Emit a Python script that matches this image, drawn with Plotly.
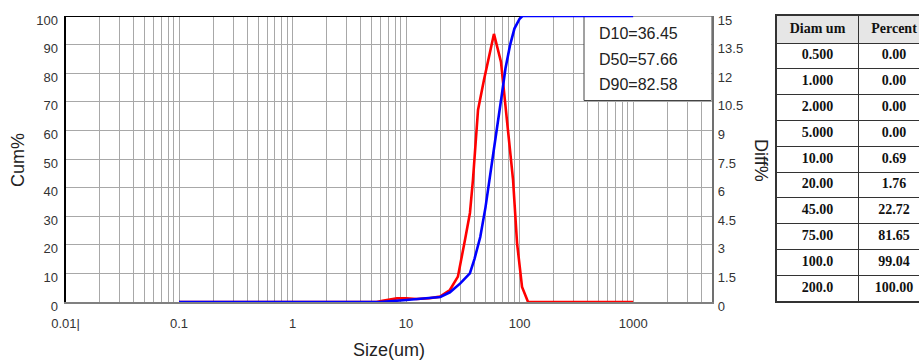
import plotly.graph_objects as go

# ---------------- data ----------------
cum_size = [0.1, 1.0, 5.8, 10.0, 12.4, 16.0, 20.0, 24.3, 30.0, 36.45, 40.0, 45.0,
            50.0, 57.66, 63.0, 70.0, 75.0, 82.58, 90.0, 96.3, 100.0, 106.0, 200.0, 1000.0]
cum_pct = [0.0, 0.0, 0.0, 0.69, 1.1, 1.4, 1.76, 3.4, 6.5, 10.0, 15.0, 22.72,
           33.0, 50.0, 60.0, 73.0, 81.65, 90.0, 95.6, 97.9, 99.04, 100.0, 100.0, 100.0]

diff_size = [0.1, 5.5, 6.2, 8.3, 10.0, 12.4, 16.0, 19.9, 24.3, 28.6, 33.0, 36.5, 38.8,
             43.0, 48.5, 53.7, 59.4, 68.5, 74.3, 82.3, 87.5, 94.9, 105.0, 118.6, 1000.0]
diff_pct = [0.0, 0.0, 0.07, 0.19, 0.2, 0.16, 0.2, 0.28, 0.63, 1.33, 3.25, 4.67, 6.4,
            10.07, 11.64, 12.9, 14.06, 12.59, 10.59, 7.97, 6.4, 3.09, 0.79, 0.0, 0.0]

d_labels = ["D10", "D50", "D90"]
d_values = [36.45, 57.66, 82.58]

table_header = ["Diam um", "Percent"]
diam_labels = ["0.500", "1.000", "2.000", "5.000", "10.00", "20.00", "45.00", "75.00", "100.0", "200.0"]
percent_values = [0.00, 0.00, 0.00, 0.00, 0.69, 1.76, 22.72, 81.65, 99.04, 100.00]

x_tick_vals = [0.01, 0.1, 1, 10, 100, 1000]
x_tick_text = ["0.01|", "0.1", "1", "10", "100", "1000"]
cum_ticks = list(range(0, 101, 10))
diff_ticks = [0, 1.5, 3, 4.5, 6, 7.5, 9, 10.5, 12, 13.5, 15]

# ---------------- geometry (pixels) ----------------
W, H = 919, 360
PL, PR, PT, PB = 65.5, 711.5, 16, 302
XMIN_LOG, XMAX_LOG = -2, 3.69
TL, TT, TB = 777, 16, 301          # table left / top / bottom
COL_W = [81, 72]                   # column widths (second is cut off by the page)
HEAD_H, ROW_H = 27, 25.8

fig = go.Figure()

fig.add_trace(go.Scatter(x=diff_size, y=diff_pct, mode="lines", xaxis="x", yaxis="y",
                         line=dict(color="#ff0000", width=2.6), showlegend=False,
                         hoverinfo="skip"))
fig.add_trace(go.Scatter(x=cum_size, y=cum_pct, mode="lines", xaxis="x", yaxis="y2",
                         line=dict(color="#0000ff", width=2.6), showlegend=False,
                         hoverinfo="skip"))

# grid tick positions (all 1..9 multiples of each decade)
grid_vals, grid_text = [], []
for e in range(-2, 4):
    for m in range(1, 10):
        v = m * 10 ** e
        grid_vals.append(v)
        grid_text.append(x_tick_text[x_tick_vals.index(v)] if v in x_tick_vals else "")

tick_font = dict(family="Liberation Sans, Arial, sans-serif", size=13, color="#333333")

# ---------------- table geometry ----------------
col_edges = [0, COL_W[0], COL_W[0] + COL_W[1]]
col_centers = [(col_edges[i] + col_edges[i + 1]) / 2 for i in range(2)]
row_edges = [0, HEAD_H] + [HEAD_H + ROW_H * (k + 1) for k in range(len(diam_labels))]
row_centers = [(row_edges[i] + row_edges[i + 1]) / 2 for i in range(len(row_edges) - 1)]
tbl_w = W - TL
tbl_h = TB - TT

serif = "Liberation Serif, Times New Roman, serif"
cell_font = dict(family=serif, size=14, color="#111111")

# header text
fig.add_trace(go.Scatter(x=col_centers, y=[row_centers[0]] * 2, mode="text",
                         text=[f"<b>{h}</b>" for h in table_header],
                         textfont=cell_font, xaxis="x3", yaxis="y3",
                         showlegend=False, hoverinfo="skip"))
# column 1
fig.add_trace(go.Scatter(x=[col_centers[0]] * len(diam_labels), y=row_centers[1:], mode="text",
                         text=[f"<b>{d}</b>" for d in diam_labels],
                         textfont=cell_font, xaxis="x3", yaxis="y3",
                         showlegend=False, hoverinfo="skip"))
# column 2
fig.add_trace(go.Scatter(x=[col_centers[1]] * len(percent_values), y=row_centers[1:], mode="text",
                         text=[f"<b>{p:.2f}</b>" for p in percent_values],
                         textfont=cell_font, xaxis="x3", yaxis="y3",
                         showlegend=False, hoverinfo="skip"))

fig.update_layout(
    width=W, height=H,
    margin=dict(l=0, r=0, t=0, b=0, autoexpand=False),
    paper_bgcolor="white", plot_bgcolor="white",
    showlegend=False,
    xaxis=dict(type="log", range=[XMIN_LOG, XMAX_LOG],
               domain=[PL / W, PR / W], anchor="y", automargin=False,
               tickmode="array", tickvals=grid_vals, ticktext=grid_text,
               showgrid=True, gridcolor="#a8a8a8", gridwidth=1,
               showline=True, linecolor="#808080", linewidth=1.5,
               ticks="", tickfont=tick_font, zeroline=False,
               ticklabelstandoff=9),
    yaxis=dict(range=[0, 15], side="right", anchor="x", automargin=False,
               domain=[1 - PB / H, 1 - PT / H],
               tickmode="array", tickvals=diff_ticks,
               ticktext=[f"{v:g}" for v in diff_ticks],
               showgrid=True, gridcolor="#a8a8a8", gridwidth=1,
               showline=True, linecolor="#707070", linewidth=1.5,
               ticks="", tickfont=tick_font, zeroline=False,
               ticklabelshift=4, ticklabelstandoff=2),
    yaxis2=dict(range=[0, 100], side="left", overlaying="y", anchor="x", automargin=False,
                tickmode="array", tickvals=cum_ticks,
                showgrid=False, showline=True, linecolor="#000000", linewidth=2,
                ticks="", tickfont=tick_font, zeroline=False,
                ticklabelshift=4, ticklabelstandoff=3),
    xaxis3=dict(domain=[TL / W, 1.0], anchor="y3", range=[0, tbl_w], automargin=False,
                tickmode="array", tickvals=col_edges[1:2],
                showgrid=True, gridcolor="#333333", gridwidth=1.3,
                showline=True, mirror=True, linecolor="#333333", linewidth=1.5,
                showticklabels=False, ticks="", zeroline=False, fixedrange=True),
    yaxis3=dict(domain=[1 - TB / H, 1 - TT / H], anchor="x3", range=[tbl_h, 0], automargin=False,
                tickmode="array", tickvals=row_edges[1:-1],
                showgrid=True, gridcolor="#333333", gridwidth=1.3,
                showline=True, linecolor="#333333", linewidth=1.5,
                showticklabels=False, ticks="", zeroline=False, fixedrange=True),
)

# header fill
fig.add_shape(type="rect", xref="x3", yref="y3", x0=0, x1=tbl_w, y0=row_edges[0], y1=row_edges[1],
              fillcolor="#e6e6e6", line=dict(width=0), layer="below")

# top border of plot
x_lo, x_hi = 10 ** XMIN_LOG, 10 ** XMAX_LOG
fig.add_shape(type="line", xref="x", yref="y", x0=x_lo, x1=x_hi, y0=15, y1=15,
              line=dict(color="#000000", width=2), layer="between")

# D-value box
box_left = 10 ** (XMIN_LOG + (584 - PL) / (PR - PL) * (XMAX_LOG - XMIN_LOG))
box_bottom = (PB - 100.5) / (PB - PT) * 15
fig.add_shape(type="rect", xref="x", yref="y", x0=box_left, x1=x_hi, y0=box_bottom, y1=15,
              line=dict(color="#444444", width=1), fillcolor="white", layer="between")
ann_x = (597 - PL) / (PR - PL)
for i, (lab, val) in enumerate(zip(d_labels, d_values)):
    yc = [34, 59.5, 85][i]
    fig.add_annotation(xref="x domain", yref="y domain", x=ann_x, y=(PB - yc) / (PB - PT),
                       xanchor="left", yanchor="middle", showarrow=False,
                       text=f"{lab}={val:.2f}",
                       font=dict(family="Liberation Sans, Arial, sans-serif", size=16, color="#222222"))

title_font = dict(family="Liberation Sans, Arial, sans-serif", size=18, color="#222222")
fig.add_annotation(xref="paper", yref="paper", x=(PL + PR) / 2 / W, y=1 - 350 / H,
                   text="Size(um)", showarrow=False, font=title_font,
                   xanchor="center", yanchor="middle")
fig.add_annotation(xref="paper", yref="paper", x=18 / W, y=1 - 160 / H,
                   text="Cum%", showarrow=False, font=title_font, textangle=-90,
                   xanchor="center", yanchor="middle")
fig.add_annotation(xref="paper", yref="paper", x=761 / W, y=1 - 160 / H,
                   text="Diff%", showarrow=False, font=title_font, textangle=90,
                   xanchor="center", yanchor="middle")

fig.write_html("out.html")
